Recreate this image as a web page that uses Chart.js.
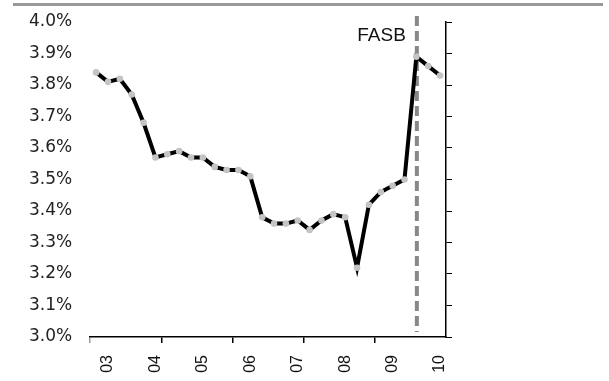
<!DOCTYPE html>
<html>
<head>
<meta charset="utf-8">
<script src="https://cdn.jsdelivr.net/npm/chart.js@4.4.0/dist/chart.umd.min.js"></script>
<style>
    html, body { margin: 0; padding: 0; background: #fff; }
    #wrap { width: 609px; height: 381px; position: relative; }
</style>
</head>
<body>
<div id="wrap"><canvas id="chart" width="609" height="381"></canvas></div>
<script>
// Quarterly series, one point per quarter (year label every 4th quarter)
var quarters = ['', '03', '', '', '', '04', '', '', '', '05', '', '', '', '06', '', '',
    '', '07', '', '', '', '08', '', '', '', '09', '', '', '', '10'];
var rates = [3.84, 3.81, 3.82, 3.77, 3.68, 3.57, 3.58, 3.59, 3.57, 3.57, 3.54, 3.53, 3.53, 3.51,
    3.38, 3.36, 3.36, 3.37, 3.34, 3.37, 3.39, 3.38, 3.22, 3.42, 3.46, 3.48, 3.50, 3.89, 3.86, 3.83];
var eventIndex = 27; // FASB marker position (category index)
var eventLabel = 'FASB';

var yMin = 3.0, yMax = 4.0, yStep = 0.1;
var fontFamily = '"Liberation Sans", Arial, sans-serif';
var yFontFamily = '"DejaVu Sans", Verdana, sans-serif';

// Decorations: top rule, dashed FASB line with its label
var extras = {
    id: 'extras',
    beforeDraw: function (chart) {
        var ctx = chart.ctx;
        ctx.save();
        ctx.fillStyle = '#999';
        ctx.fillRect(13, 3, 590, 3);
        ctx.restore();
    },
    beforeDatasetsDraw: function (chart) {
        var ctx = chart.ctx;
        var x = chart.scales.x.getPixelForValue(eventIndex) + 0.5;
        var area = chart.chartArea;
        ctx.save();
        ctx.strokeStyle = '#888';
        ctx.lineWidth = 4;
        ctx.setLineDash([10, 5]);
        ctx.beginPath();
        ctx.moveTo(x, area.top - 6);
        ctx.lineTo(x, area.bottom - 5);
        ctx.stroke();
        ctx.setLineDash([]);
        ctx.fillStyle = '#111';
        ctx.font = '19px ' + fontFamily;
        ctx.textAlign = 'right';
        ctx.textBaseline = 'middle';
        ctx.fillText(eventLabel, x - 11, chart.scales.y.getPixelForValue(3.955));
        ctx.restore();
    }
};

var ctx = document.getElementById('chart').getContext('2d');
var chart = new Chart(ctx, {
    type: 'line',
    data: {
        labels: quarters,
        datasets: [{
            data: rates,
            borderColor: '#000',
            borderWidth: 4,
            pointBackgroundColor: '#c4c4c4',
            pointBorderColor: '#c4c4c4',
            pointRadius: 3.3,
            pointBorderWidth: 0,
            tension: 0,
            fill: false
        }]
    },
    options: {
        responsive: false,
        animation: false,
        layout: { padding: { left: 29, right: 157, top: 22, bottom: 0 } },
        plugins: {
            legend: { display: false },
            tooltip: { enabled: false }
        },
        scales: {
            x: {
                offset: true,
                afterFit: function (scale) { scale.height = 44; },
                grid: {
                    offset: true,
                    drawOnChartArea: false,
                    tickLength: 6,
                    lineWidth: 1.5,
                    color: function (c) {
                        if (c.index === 0) return '#999';
                        return c.index % 6 === 0 ? '#000' : 'rgba(0,0,0,0)';
                    }
                },
                border: { display: true, color: '#000', width: 1.5 },
                ticks: {
                    autoSkip: false,
                    maxRotation: 90,
                    minRotation: 90,
                    padding: 12,
                    color: '#111',
                    font: { family: fontFamily, size: 16 }
                }
            },
            y: {
                position: 'left',
                min: yMin,
                max: yMax,
                // invisible tick marks provide the gap between labels and plot
                grid: { display: true, drawOnChartArea: false, tickLength: 18, color: 'rgba(0,0,0,0)' },
                border: { display: false },
                ticks: {
                    stepSize: yStep,
                    padding: 0,
                    color: '#222',
                    font: { family: yFontFamily, size: 17 },
                    callback: function (v) { return v.toFixed(1) + '%'; }
                }
            },
            y2: {
                position: 'right',
                min: yMin,
                max: yMax,
                grid: { drawOnChartArea: false, tickLength: 6, color: '#000', lineWidth: 1 },
                border: { display: true, color: '#000', width: 1.5 },
                ticks: { stepSize: yStep, display: false }
            }
        }
    },
    plugins: [extras]
});
</script>
</body>
</html>
